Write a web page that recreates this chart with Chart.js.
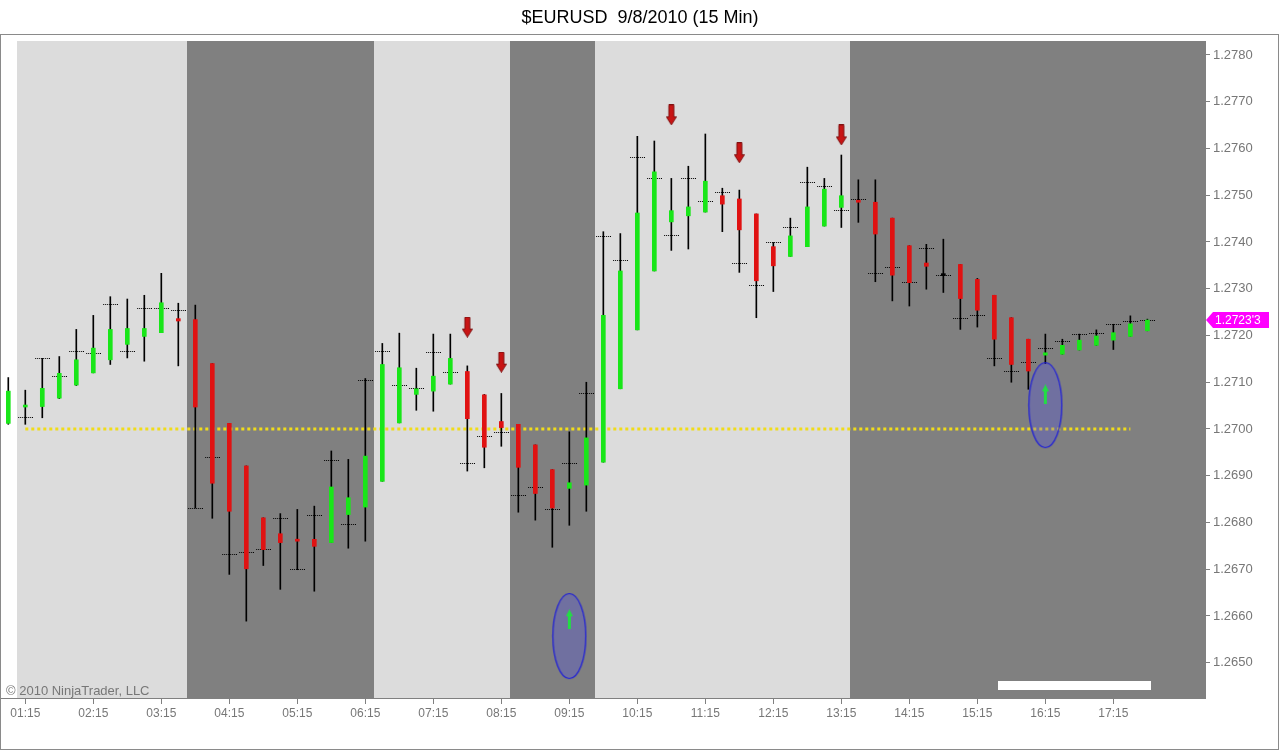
<!DOCTYPE html>
<html><head><meta charset="utf-8">
<script src="https://cdn.jsdelivr.net/npm/chart.js@4.4.0/dist/chart.umd.min.js"></script>
<style>html,body{margin:0;padding:0;background:#fff;overflow:hidden}#wrap{width:1280px;height:751px}canvas{display:block}</style>
</head><body><div id="wrap"><canvas id="c" width="1280" height="751"></canvas></div>
<script>
const chartTitle = '$EURUSD  9/8/2010 (15 Min)';
const copyrightText = '\u00A9 2010 NinjaTrader, LLC';
const times = ['01:00','01:15','01:30','01:45','02:00','02:15','02:30','02:45','03:00','03:15','03:30','03:45',
'04:00','04:15','04:30','04:45','05:00','05:15','05:30','05:45','06:00','06:15','06:30','06:45',
'07:00','07:15','07:30','07:45','08:00','08:15','08:30','08:45','09:00','09:15','09:30','09:45',
'10:00','10:15','10:30','10:45','11:00','11:15','11:30','11:45','12:00','12:15','12:30','12:45',
'13:00','13:15','13:30','13:45','14:00','14:15','14:30','14:45','15:00','15:15','15:30','15:45',
'16:00','16:15','16:30','16:45','17:00','17:15','17:30','17:45'];
const openP = [1.27012,1.27047,1.27048,1.27066,1.27094,1.27120,1.27148,1.27181,1.27198,1.27206,1.27236,1.27234,
1.27140,1.27012,1.26921,1.26810,1.26776,1.26764,1.26764,1.26757,1.26817,1.26833,1.26888,1.27013,
1.27074,1.27081,1.27096,1.27123,1.27073,1.27016,1.27010,1.26966,1.26913,1.26873,1.26880,1.26929,
1.27086,1.27212,1.27338,1.27443,1.27456,1.27464,1.27499,1.27492,1.27460,1.27390,1.27369,1.27390,
1.27434,1.27474,1.27488,1.27485,1.27451,1.27392,1.27355,1.27328,1.27352,1.27320,1.27286,1.27238,
1.27192,1.27158,1.27160,1.27169,1.27179,1.27190,1.27198,1.27210];
const highP = [1.27110,1.27083,1.27151,1.27155,1.27213,1.27243,1.27283,1.27278,1.27286,1.27333,1.27269,1.27265,
1.27140,1.27012,1.26921,1.26810,1.26819,1.26828,1.26835,1.26953,1.26935,1.27108,1.27183,1.27205,
1.27130,1.27203,1.27203,1.27135,1.27074,1.27076,1.27010,1.26966,1.26913,1.26994,1.27100,1.27422,
1.27418,1.27626,1.27616,1.27536,1.27562,1.27631,1.27515,1.27511,1.27460,1.27399,1.27451,1.27560,
1.27536,1.27586,1.27533,1.27533,1.27451,1.27392,1.27395,1.27406,1.27352,1.27322,1.27286,1.27238,
1.27192,1.27203,1.27192,1.27203,1.27212,1.27224,1.27242,1.27235];
const lowP = [1.27010,1.27010,1.27024,1.27065,1.27093,1.27120,1.27138,1.27152,1.27145,1.27206,1.27135,1.26831,
1.26809,1.26689,1.26589,1.26708,1.26657,1.26699,1.26653,1.26757,1.26745,1.26760,1.26888,1.27013,
1.27040,1.27038,1.27096,1.26910,1.26917,1.26963,1.26822,1.26805,1.26747,1.26794,1.26824,1.26929,
1.27086,1.27212,1.27338,1.27382,1.27385,1.27464,1.27422,1.27335,1.27238,1.27294,1.27369,1.27390,
1.27434,1.27431,1.27442,1.27315,1.27274,1.27263,1.27299,1.27292,1.27213,1.27218,1.27135,1.27100,
1.27085,1.27140,1.27160,1.27169,1.27179,1.27170,1.27198,1.27210];
const closeP = [1.27081,1.27048,1.27087,1.27119,1.27148,1.27173,1.27213,1.27215,1.27215,1.27270,1.27231,1.27047,
1.26884,1.26824,1.26701,1.26742,1.26757,1.26760,1.26749,1.26876,1.26853,1.26942,1.27138,1.27131,
1.27086,1.27113,1.27151,1.27022,1.26961,1.27003,1.26918,1.26862,1.26831,1.26885,1.26981,1.27243,
1.27338,1.27462,1.27550,1.27467,1.27475,1.27530,1.27481,1.27426,1.27317,1.27349,1.27413,1.27475,
1.27513,1.27499,1.27485,1.27417,1.27329,1.27313,1.27348,1.27328,1.27279,1.27254,1.27192,1.27138,
1.27124,1.27163,1.27179,1.27190,1.27199,1.27206,1.27225,1.27233];
const pivotMarks = [null,1.27024,1.27151,1.27112,1.27166,1.27162,1.27267,1.27166,1.27258,1.27258,1.27253,1.26831,
1.26939,1.26731,1.26735,1.26742,1.26808,1.26699,1.26815,1.26932,1.26796,1.27104,1.27166,1.27093,
1.27086,1.27163,1.27121,1.26926,1.26984,1.26992,1.26857,1.26874,1.26827,1.26926,1.27076,1.27412,
1.27360,1.27581,1.27536,1.27414,1.27536,1.27487,1.27506,1.27354,1.27307,1.27399,1.27432,1.27528,
1.27519,1.27467,1.27491,1.27333,1.27345,1.27313,1.27386,1.27328,1.27236,1.27243,1.27151,1.27123,
1.27142,1.27172,1.27188,1.27202,1.27204,1.27223,1.27230,1.27233];
const yTickValues = [1.2650,1.2660,1.2670,1.2680,1.2690,1.2700,1.2710,1.2720,1.2730,1.2740,1.2750,1.2760,1.2770,1.2780];
const sessions = [[0.5,10.5,'light'],[10.5,21.5,'dark'],[21.5,29.5,'light'],[29.5,34.5,'dark'],[34.5,49.5,'light'],[49.5,80,'dark']];
const sellSignals = [{x:27,y:1.27218},{x:29,y:1.27143},{x:39,y:1.27672},{x:43,y:1.27591},{x:49,y:1.27629}];
const buySignals = [{x:33,y:1.26593},{x:61,y:1.27074}];
const highlights = [{x:33,y:1.26557},{x:61,y:1.27051}];
const referenceLevel = [{x:1,y:1.2700},{x:66,y:1.2700}];
const whiteBox = [58.2,67.2,1.26460,1.26440];

const GREEN='#19e619', RED='#e01212';
function mkCanvas(w,h,draw){const c=document.createElement('canvas');c.width=w;c.height=h;draw(c.getContext('2d'));return c;}
const dottedImg = mkCanvas(15,1,g=>{g.fillStyle='#000';for(let i=0;i<15;i+=2)g.fillRect(i,0,1,1);});
const sellImg = mkCanvas(11,21,g=>{g.fillStyle='#c81414';g.strokeStyle='#801010';g.lineWidth=1;
  g.beginPath();g.moveTo(3,0.5);g.lineTo(8,0.5);g.lineTo(8,12.5);g.lineTo(10.5,12.5);g.lineTo(5.5,20.5);g.lineTo(0.5,12.5);g.lineTo(3,12.5);g.closePath();g.fill();g.stroke();});
const buyImg = mkCanvas(7,20,g=>{g.fillStyle='#22dd44';
  g.beginPath();g.moveTo(3.5,0);g.lineTo(7,7);g.lineTo(5,7);g.lineTo(5,20);g.lineTo(2,20);g.lineTo(2,7);g.lineTo(0,7);g.closePath();g.fill();});
const ellipseImg = mkCanvas(36,88,g=>{g.beginPath();g.ellipse(18,44,16.5,42.5,0,0,Math.PI*2);g.fillStyle='rgba(64,64,255,0.25)';g.fill();g.strokeStyle='#1c1cd8';g.lineWidth=1.2;g.stroke();});

const idx = times.map((t,i)=>i);
const wickData = idx.map(i=>({x:i,y:[lowP[i],highP[i]]}));
const bodyData = idx.map(i=>({x:i,y:[openP[i],closeP[i]]}));
const bodyColors = idx.map(i=>closeP[i]>openP[i]?GREEN:(closeP[i]<openP[i]?RED:'#000'));
const markData = idx.filter(i=>pivotMarks[i]!==null).map(i=>({x:i,y:pivotMarks[i]}));
const tickIdx = idx.filter(i=>times[i].endsWith(':15'));
const FONT = "'Liberation Sans', Arial, sans-serif";

const bgPlugin = {id:'bg', beforeDatasetsDraw(chart){
  const {ctx, chartArea:a, scales:{x,y}} = chart;
  ctx.save(); ctx.beginPath(); ctx.rect(0,a.top,a.right,a.bottom-a.top); ctx.clip();
  ctx.fillStyle='#fff'; ctx.fillRect(0,a.top,a.right,a.bottom-a.top);
  sessions.forEach(s=>{const x0=x.getPixelForValue(s[0]), x1=Math.min(a.right,x.getPixelForValue(s[1]));
    ctx.fillStyle = s[2]==='light' ? '#dcdcdc' : '#808080'; ctx.fillRect(Math.round(x0),a.top,Math.round(x1)-Math.round(x0),a.bottom-a.top);});
  const bx0=x.getPixelForValue(whiteBox[0]), bx1=x.getPixelForValue(whiteBox[1]);
  const by0=y.getPixelForValue(whiteBox[2]), by1=y.getPixelForValue(whiteBox[3]);
  ctx.fillStyle='#fff'; ctx.fillRect(Math.round(bx0),Math.round(by0),Math.round(bx1-bx0),Math.round(by1-by0));
  ctx.fillStyle='#777'; ctx.font='13px '+FONT; ctx.textBaseline='middle'; ctx.textAlign='left';
  ctx.fillText(copyrightText, 6, a.bottom-7);
  ctx.restore();
}, afterDraw(chart){
  const {ctx, chartArea:a, scales:{y}} = chart;
  ctx.save();
  ctx.strokeStyle='#808080'; ctx.lineWidth=1;
  ctx.beginPath(); ctx.moveTo(0, a.bottom+0.5); ctx.lineTo(a.left, a.bottom+0.5); ctx.stroke();
  ctx.strokeStyle='#8a8a8a';
  ctx.strokeRect(0.5,34.5,1278,715);
  const last = closeP[closeP.length-1];
  const py = Math.round(y.getPixelForValue(last));
  const x0 = a.right+1;
  ctx.fillStyle='#ff00ff'; ctx.beginPath(); ctx.moveTo(x0,py); ctx.lineTo(x0+7,py-8); ctx.lineTo(x0+63,py-8); ctx.lineTo(x0+63,py+8); ctx.lineTo(x0+7,py+8); ctx.closePath(); ctx.fill();
  const s = last.toFixed(5);
  ctx.fillStyle='#fff'; ctx.font='12px '+FONT; ctx.textBaseline='middle'; ctx.textAlign='left';
  ctx.fillText(s.slice(0,6)+"'"+s.slice(6), x0+9, py+0.5);
  ctx.restore();
}};

new Chart(document.getElementById('c'), {
  type:'bar',
  data:{datasets:[
    {type:'line', label:'buy', data:buySignals, showLine:false, pointStyle:buyImg, pointRadius:5, order:0},
    {type:'line', label:'sell', data:sellSignals, showLine:false, pointStyle:sellImg, pointRadius:5, order:1},
    {type:'line', label:'hl', data:highlights, showLine:false, pointStyle:ellipseImg, pointRadius:5, order:2},
    {type:'bar', label:'body', data:bodyData, backgroundColor:bodyColors, barThickness:4, minBarLength:2, grouped:false, borderWidth:0, order:3},
    {type:'line', label:'marks', data:markData, showLine:false, pointStyle:dottedImg, pointRadius:5, order:4},
    {type:'bar', label:'wick', data:wickData, backgroundColor:'#000', barThickness:1, grouped:false, borderWidth:0, order:5},
    {type:'line', label:'level', data:referenceLevel, borderColor:'#f0dc1a', borderWidth:3, borderDash:[3,3], pointRadius:0, fill:false, order:6}
  ]},
  options:{
    responsive:false, animation:false, devicePixelRatio:1,
    layout:{padding:0},
    plugins:{legend:{display:false}, tooltip:{enabled:false},
      title:{display:true, text:chartTitle, color:'#000', font:{family:FONT, size:18, weight:'normal', lineHeight:1.2}, padding:{top:7,bottom:12.4}}},
    scales:{
      x:{type:'linear', min:-0.135, max:70.39, offset:false,
        grid:{display:true, offset:false, drawOnChartArea:false, drawTicks:true, tickLength:6, color:'#808080'},
        border:{display:true, color:'#808080'},
        ticks:{color:'#777', font:{family:FONT,size:12}, padding:2, autoSkip:false, maxRotation:0, callback:v=>times[v]},
        afterBuildTicks:s=>{s.ticks = tickIdx.map(v=>({value:v}));},
        afterFit:s=>{s.height=53; s.paddingLeft=0; s.paddingRight=0;}},
      y:{type:'linear', position:'right', min:1.264246, max:1.278299,
        grid:{display:true, offset:false, drawOnChartArea:false, drawTicks:true, tickLength:5, color:'#808080'},
        border:{display:true, color:'#808080'},
        ticks:{color:'#777', font:{family:FONT,size:13}, padding:3, callback:v=>Number(v).toFixed(4)},
        afterBuildTicks:s=>{s.ticks = yTickValues.map(v=>({value:v}));},
        afterFit:s=>{s.width=75; s.paddingTop=0; s.paddingBottom=0;}}
    }
  },
  plugins:[bgPlugin]
});
</script></body></html>
